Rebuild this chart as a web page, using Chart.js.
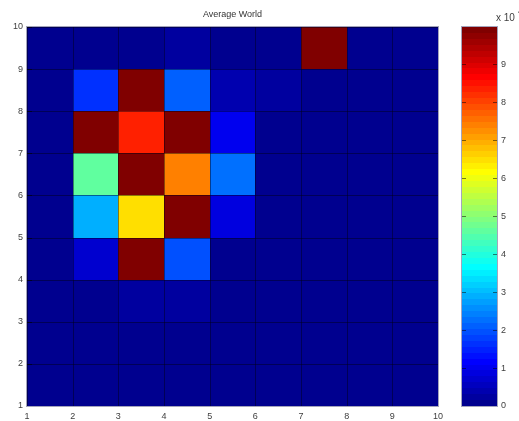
<!DOCTYPE html>
<html>
<head>
<meta charset="utf-8">
<title>Average World</title>
<script src="https://cdn.jsdelivr.net/npm/chart.js@4.4.1/dist/chart.umd.min.js"></script>
<style>
  html, body { margin: 0; padding: 0; background: #fff; }
  #wrap { position: relative; width: 519px; height: 421px; overflow: hidden; }
  #main { position: absolute; left: 0; top: 0; }
  #bar { position: absolute; left: 440px; top: 0; }
</style>
</head>
<body>
<div id="wrap">
  <canvas id="main" width="519" height="421"></canvas>
  <canvas id="bar" width="79" height="421"></canvas>
</div>
<script>
// Grid edges (cells span [x, x+1] x [y, y+1])
const xEdges = [1, 2, 3, 4, 5, 6, 7, 8, 9, 10];
const yEdges = [1, 2, 3, 4, 5, 6, 7, 8, 9, 10];

// Cell values, one array per row band (bottom band first), columns 1-2 ... 9-10
const rowY1 = [0.05, 0.05, 0.05, 0.05, 0.05, 0.05, 0.05, 0.05, 0.05];
const rowY2 = [0.05, 0.05, 0.05, 0.05, 0.05, 0.05, 0.05, 0.05, 0.05];
const rowY3 = [0.05, 0.05, 0.23, 0.23, 0.05, 0.05, 0.05, 0.05, 0.05];
const rowY4 = [0.05, 0.70, 9.98, 1.90, 0.05, 0.05, 0.05, 0.05, 0.05];
const rowY5 = [0.05, 2.90, 6.50, 9.98, 0.86, 0.05, 0.05, 0.05, 0.05];
const rowY6 = [0.05, 4.60, 9.98, 7.35, 2.20, 0.05, 0.05, 0.05, 0.05];
const rowY7 = [0.05, 9.98, 8.36, 9.98, 1.00, 0.05, 0.05, 0.05, 0.05];
const rowY8 = [0.05, 1.64, 9.98, 2.10, 0.39, 0.20, 0.05, 0.05, 0.05];
const rowY9 = [0.05, 0.05, 0.05, 0.23, 0.05, 0.05, 9.98, 0.05, 0.05];

// Colour limits of the colorbar
const colorMin = 0;
const colorMax = 9.98;
const colorTicks = [0, 1, 2, 3, 4, 5, 6, 7, 8, 9];

const rows = [rowY1, rowY2, rowY3, rowY4, rowY5, rowY6, rowY7, rowY8, rowY9];
const cells = [];
rows.forEach((row, j) => row.forEach((v, i) => cells.push({ x: xEdges[i] + 0.5, y: yEdges[j] + 0.5, v })));

// MATLAB-style jet(64) colormap
const NCOL = 64;
function u(k) {
  if (k < 1 || k > 47) return 0;
  if (k <= 16) return k / 16;
  if (k <= 31) return 1;
  return (48 - k) / 16;
}
function jet(i) { // i = 1..64
  const r = u(i - 24), g = u(i - 8), b = u(i + 8);
  return `rgb(${Math.round(r * 255)},${Math.round(g * 255)},${Math.round(b * 255)})`;
}
function colorFor(v) {
  let idx = Math.floor((v - colorMin) / (colorMax - colorMin) * NCOL) + 1;
  idx = Math.max(1, Math.min(NCOL, idx));
  return jet(idx);
}

const FONT = "'Liberation Sans', Arial, Helvetica, sans-serif";
Chart.defaults.font.family = FONT;
Chart.defaults.font.size = 9;
Chart.defaults.color = '#404040';

// Draws the faceted cells through the chart's x/y scales
const cellPlugin = {
  id: 'cells',
  beforeDatasetsDraw(chart) {
    const { ctx, scales: { x, y }, chartArea: a } = chart;
    const px = v => Math.round(x.getPixelForValue(v));
    const py = v => Math.round(y.getPixelForValue(v));
    ctx.save();
    chart.data.datasets[0].data.forEach(c => {
      const x0 = px(c.x - 0.5), x1 = px(c.x + 0.5);
      const y0 = py(c.y + 0.5), y1 = py(c.y - 0.5);
      ctx.fillStyle = colorFor(c.v);
      ctx.fillRect(x0, y0, x1 - x0, y1 - y0);
    });
    ctx.strokeStyle = 'rgba(0,0,20,0.45)';
    ctx.lineWidth = 1;
    ctx.beginPath();
    xEdges.forEach(e => { const p = px(e) + 0.5; ctx.moveTo(p, a.top); ctx.lineTo(p, a.bottom); });
    yEdges.forEach(e => { const p = py(e) + 0.5; ctx.moveTo(a.left, p); ctx.lineTo(a.right, p); });
    ctx.stroke();
    // inward tick marks on the left axis
    ctx.strokeStyle = 'rgba(0,0,0,0.55)';
    ctx.beginPath();
    yEdges.forEach(e => { const p = py(e) + 0.5; ctx.moveTo(a.left, p); ctx.lineTo(a.left + 5, p); });
    ctx.stroke();
    // axes box
    ctx.strokeStyle = '#a4a4bc';
    ctx.strokeRect(Math.round(a.left) - 0.5, Math.round(a.top) - 0.5,
      Math.round(a.right - a.left) + 1, Math.round(a.bottom - a.top) + 1);
    ctx.restore();
  }
};

new Chart(document.getElementById('main'), {
  type: 'scatter',
  data: { datasets: [{ data: cells, pointRadius: 0, pointHoverRadius: 0 }] },
  options: {
    responsive: false,
    animation: false,
    events: [],
    layout: { padding: { left: 0, right: 81, top: 0, bottom: 0 } },
    plugins: {
      legend: { display: false },
      tooltip: { enabled: false },
      title: {
        display: true,
        text: 'Average World',
        fullSize: false,
        color: '#333',
        font: { size: 9, weight: 'normal' },
        padding: { top: 9, bottom: 7.2 }
      }
    },
    scales: {
      x: {
        type: 'linear', min: 1, max: 10,
        afterBuildTicks: s => { s.ticks = xEdges.map(v => ({ value: v })); },
        afterFit: s => { s.height = 15; },
        grid: { display: false, drawTicks: false },
        border: { display: false },
        ticks: { padding: 5, maxRotation: 0, autoSkip: false }
      },
      y: {
        type: 'linear', min: 1, max: 10,
        afterBuildTicks: s => { s.ticks = yEdges.map(v => ({ value: v })); },
        afterFit: s => { s.width = 27; },
        grid: { display: false, drawTicks: false },
        border: { display: false },
        ticks: { padding: 4, autoSkip: false }
      }
    }
  },
  plugins: [cellPlugin]
});

// Colorbar: 64 bands placed by the colorbar's own value scale
const barPlugin = {
  id: 'colorbar',
  beforeDatasetsDraw(chart) {
    const { ctx, scales: { y }, chartArea: a } = chart;
    const py = v => Math.round(y.getPixelForValue(v));
    const left = Math.round(a.left), right = Math.round(a.right);
    ctx.save();
    for (let i = 1; i <= NCOL; i++) {
      const v0 = colorMin + (i - 1) / NCOL * (colorMax - colorMin);
      const v1 = colorMin + i / NCOL * (colorMax - colorMin);
      const p0 = py(v0), p1 = py(v1);
      ctx.fillStyle = jet(i);
      ctx.fillRect(left, p1, right - left, p0 - p1);
    }
    ctx.strokeStyle = 'rgba(0,0,0,0.5)';
    ctx.lineWidth = 1;
    ctx.beginPath();
    colorTicks.forEach(t => {
      const p = py(t) + 0.5;
      ctx.moveTo(left, p); ctx.lineTo(left + 4, p);
      ctx.moveTo(right, p); ctx.lineTo(right - 4, p);
    });
    ctx.stroke();
    ctx.strokeStyle = '#a4a4bc';
    ctx.strokeRect(left - 0.5, Math.round(a.top) - 0.5, right - left + 1, Math.round(a.bottom - a.top) + 1);
    // exponent label above the colorbar
    ctx.fillStyle = '#404040';
    ctx.font = `10px ${FONT}`;
    ctx.textBaseline = 'middle';
    ctx.textAlign = 'left';
    ctx.fillText('x 10', right - 1, 18);
    ctx.font = `7px ${FONT}`;
    ctx.fillText('4', right + 21, 12);
    ctx.restore();
  }
};

new Chart(document.getElementById('bar'), {
  type: 'scatter',
  data: { datasets: [{ data: [], pointRadius: 0 }] },
  options: {
    responsive: false,
    animation: false,
    events: [],
    layout: { padding: { left: 22, right: 0, top: 27, bottom: 15 } },
    plugins: { legend: { display: false }, tooltip: { enabled: false } },
    scales: {
      x: { type: 'linear', min: 0, max: 1, display: false },
      y: {
        type: 'linear', position: 'right', min: colorMin, max: colorMax,
        afterBuildTicks: s => { s.ticks = colorTicks.map(v => ({ value: v })); },
        afterFit: s => { s.width = 22; },
        grid: { display: false, drawTicks: false },
        border: { display: false },
        ticks: { padding: 4, autoSkip: false }
      }
    }
  },
  plugins: [barPlugin]
});
</script>
</body>
</html>
